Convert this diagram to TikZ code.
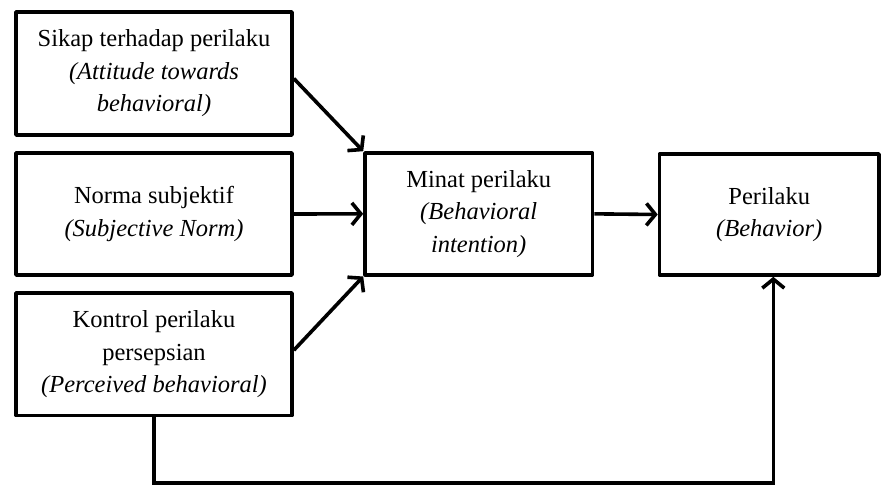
\documentclass[tikz,border=0pt]{standalone}
\usepackage{fontspec}
\setmainfont{Liberation Serif}
\usetikzlibrary{arrows.meta}
\begin{document}
\begin{tikzpicture}[x=1pt,y=-1pt,
  box/.style={draw, line width=3.6pt, line join=round, align=center, inner sep=0pt,
    font=\fontsize{24.5}{32.5}\selectfont},
  conn/.style={line width=3.6pt, -{Straight Barb[length=9pt,width=22pt]}}]
\useasboundingbox (0,0) rectangle (882,486);
\node[box, minimum width=276pt, minimum height=123pt] (b1) at (154,73.5)
  {Sikap terhadap perilaku\\\textit{(Attitude towards}\\\textit{behavioral)}};
\node[box, minimum width=276pt, minimum height=122pt] (b2) at (154,214)
  {Norma subjektif\\\textit{(Subjective Norm)}};
\node[box, minimum width=276pt, minimum height=122.5pt] (b3) at (154,354.25)
  {Kontrol perilaku\\persepsian\\\textit{(Perceived behavioral)}};
\node[box, minimum width=227.5pt, minimum height=121.7pt] (m) at (478.75,213.85)
  {Minat perilaku\\\textit{(Behavioral}\\\textit{intention)}};
\node[box, minimum width=219.5pt, minimum height=121pt] (p) at (769.25,214.5)
  {Perilaku\\\textit{(Behavior)}};
\coordinate (c2) at (773.3,483);
\draw[conn] ([yshift=-5pt]b1.east) -- (m.north west);
\draw[conn] (b2.east) -- (m.west);
\draw[conn] ([yshift=4pt]b3.east) -- (m.south west);
\draw[conn] (m.east) -- (p.west);
\draw[conn] (b3.south) -- (b3.south |- c2) -- (c2) -- (c2 |- p.south);
\end{tikzpicture}
\end{document}
